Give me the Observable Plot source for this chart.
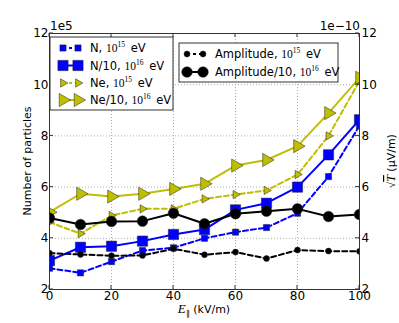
<!DOCTYPE html>
<html><head><meta charset="utf-8">
<script src="https://cdn.jsdelivr.net/npm/d3@7"></script>
<script src="https://cdn.jsdelivr.net/npm/@observablehq/plot@0.6"></script>
<style>body{margin:0;background:#fff}</style>
</head><body><div id="chart"></div>
<script>
const E = [0,10,20,30,40,50,60,70,80,90,100];
const amp15 = [3.42,3.37,3.32,3.33,3.59,3.36,3.46,3.21,3.54,3.50,3.49];
const amp16 = [4.79,4.54,4.66,4.67,4.98,4.57,4.96,5.06,5.15,4.85,4.93];
const n15 = [2.83,2.65,3.09,3.52,3.63,4.00,4.24,4.42,4.98,6.41,8.40];
const n16 = [3.13,3.65,3.69,3.89,4.15,4.34,5.11,5.37,6.00,7.26,8.63];
const ne15 = [4.63,4.18,4.89,5.15,5.15,5.54,5.71,5.87,6.49,8.00,10.15];
const ne16 = [5.02,5.74,5.63,5.74,5.93,6.13,6.84,7.06,7.60,8.89,10.27];
const xTicks = [0,20,40,60,80,100];
const yTicks = [2,4,6,8,10,12];
const leftLabels = ["N, ", "N/10, ", "Ne, ", "Ne/10, "];
const rightLabels = ["Amplitude, ", "Amplitude/10, "];
const exps = ["15","16"];

const BLUE = "#0000ff", YEL = "#bfbf00", BLK = "#000000";
const series = [
  {values: n15, label: leftLabels[0], exp: exps[0], color: BLUE, dash: "5,3", symbol: "square", r: 3.5, rotate: 0, leg: 0, row: 0},
  {values: n16, label: leftLabels[1], exp: exps[1], color: BLUE, dash: null, symbol: "square", r: 5.8, rotate: 0, leg: 0, row: 1},
  {values: ne15, label: leftLabels[2], exp: exps[0], color: YEL, dash: "5,3", symbol: "triangle", r: 3.1, rotate: 90, leg: 0, row: 2},
  {values: ne16, label: leftLabels[3], exp: exps[1], color: YEL, dash: null, symbol: "triangle", r: 4.9, rotate: 90, leg: 0, row: 3},
  {values: amp15, label: rightLabels[0], exp: exps[0], color: BLK, dash: "5,3", symbol: "circle", r: 3.0, rotate: 0, leg: 1, row: 0},
  {values: amp16, label: rightLabels[1], exp: exps[1], color: BLK, dash: null, symbol: "circle", r: 5.3, rotate: 0, leg: 1, row: 1}
];

const marks = [
  Plot.gridX(xTicks, {stroke: "#999", strokeOpacity: 1, strokeWidth: 0.8, strokeDasharray: "1,2"}),
  Plot.gridY(yTicks, {stroke: "#999", strokeOpacity: 1, strokeWidth: 0.8, strokeDasharray: "1,2"}),
  Plot.axisX(xTicks, {tickSize: 0, tickPadding: 2, label: null, fontSize: 12}),
  Plot.axisY(yTicks, {anchor: "left", tickSize: 0, tickPadding: 1, label: null, fontSize: 12}),
  Plot.axisY(yTicks, {anchor: "right", tickSize: 0, tickPadding: 2, label: null, fontSize: 12})
];
for (const s of series) {
  const d = E.map((x, i) => ({x, y: s.values[i]}));
  marks.push(Plot.lineY(d, {x: "x", y: "y", stroke: s.color, strokeWidth: 2, strokeDasharray: s.dash, clip: true}));
  marks.push(Plot.dot(d, {x: "x", y: "y", symbol: s.symbol, r: s.r, rotate: s.rotate, fill: s.color, stroke: "#222", strokeWidth: 0.5, clip: true}));
}
marks.push(Plot.frame({stroke: "#333", strokeWidth: 1}));

const chart = Plot.plot({
  width: 399, height: 323,
  marginLeft: 49, marginRight: 40, marginTop: 33, marginBottom: 34,
  x: {domain: [0, 100]},
  y: {domain: [2, 12]},
  style: {fontFamily: "DejaVu Sans", fontSize: "12px", background: "white", color: "black"},
  marks
});
document.getElementById("chart").appendChild(chart);

const svg = d3.select(chart);
const sx = chart.scale("x"), sy = chart.scale("y");
const X0 = sx.apply(0), X1 = sx.apply(100), Y0 = sy.apply(2), Y1 = sy.apply(12);
const tg = svg.append("g").attr("stroke", "#333").attr("stroke-width", 1);
for (const t of xTicks) {
  const x = sx.apply(t);
  tg.append("line").attr("x1", x).attr("x2", x).attr("y1", Y0).attr("y2", Y0 - 4);
  tg.append("line").attr("x1", x).attr("x2", x).attr("y1", Y1).attr("y2", Y1 + 4);
}
for (const t of yTicks) {
  const y = sy.apply(t);
  tg.append("line").attr("x1", X0).attr("x2", X0 + 4).attr("y1", y).attr("y2", y);
  tg.append("line").attr("x1", X1).attr("x2", X1 - 4).attr("y1", y).attr("y2", y);
}

// offset labels
svg.append("text").attr("x", X0 + 1).attr("y", Y1 - 3).attr("font-size", 12).attr("text-anchor", "start").text("1e5");
svg.append("text").attr("x", X1 + 1).attr("y", Y1 - 3).attr("font-size", 12).attr("text-anchor", "end").text("1e\u221210");

// axis labels
const xl = svg.append("text").attr("x", (X0 + X1) / 2).attr("y", 313).attr("text-anchor", "middle").attr("font-size", 11);
xl.append("tspan").attr("font-family", "Liberation Serif").attr("font-style", "italic").attr("font-size", 13).text("E");
xl.append("tspan").attr("font-family", "Liberation Serif").attr("font-size", 8).attr("dy", 3).text("\u2225");
xl.append("tspan").attr("dy", -3).text(" (kV/m)");

svg.append("text").attr("transform", `translate(31,${(Y0 + Y1) / 2}) rotate(-90)`).attr("text-anchor", "middle").attr("font-size", 11).text("Number of particles");
const rl = svg.append("text").attr("transform", `translate(395,${(Y0 + Y1) / 2}) rotate(-90)`).attr("text-anchor", "middle").attr("font-size", 11);
rl.append("tspan").attr("font-family", "Liberation Serif").text("\u221A");
rl.append("tspan").attr("font-family", "Liberation Serif").attr("font-style", "italic").attr("text-decoration", "overline").attr("font-size", 12).text("T");
rl.append("tspan").text(" (\u03BCV/m)");

// legends
const legs = [
  {x: 50, y: 37, w: 123, h: 73, rowY: [48, 65.5, 83, 100], m0: 63, m1: 78, tx: 90},
  {x: 179, y: 43, w: 159, h: 39, rowY: [54, 72], m0: 187, m1: 203, tx: 215}
];
for (const L of legs) {
  svg.append("rect").attr("x", L.x).attr("y", L.y).attr("width", L.w).attr("height", L.h)
    .attr("fill", "white").attr("stroke", "#333").attr("stroke-width", 1);
}
const symMap = {square: d3.symbolSquare, triangle: d3.symbolTriangle, circle: d3.symbolCircle};
for (const s of series) {
  const L = legs[s.leg], y = L.rowY[s.row];
  svg.append("line").attr("x1", L.m0).attr("x2", L.m1).attr("y1", y).attr("y2", y)
    .attr("stroke", s.color).attr("stroke-width", 2).attr("stroke-dasharray", s.dash ? "3,3" : null);
  const path = d3.symbol(symMap[s.symbol], Math.PI * s.r * s.r)();
  for (const mx of [L.m0, L.m1]) {
    svg.append("path").attr("d", path).attr("transform", `translate(${mx},${y}) rotate(${s.rotate})`)
      .attr("fill", s.color).attr("stroke", "#222").attr("stroke-width", 0.5);
  }
  const t = svg.append("text").attr("x", L.tx).attr("y", y + 4).attr("font-size", 11.5).attr("text-anchor", "start");
  t.append("tspan").text(s.label);
  t.append("tspan").attr("font-family", "Liberation Serif").attr("font-size", 11.5).text("10");
  t.append("tspan").attr("font-family", "Liberation Serif").attr("font-size", 7.5).attr("dy", -5).text(s.exp);
  t.append("tspan").attr("dy", 5).text("\u2002eV");
}
</script></body></html>
